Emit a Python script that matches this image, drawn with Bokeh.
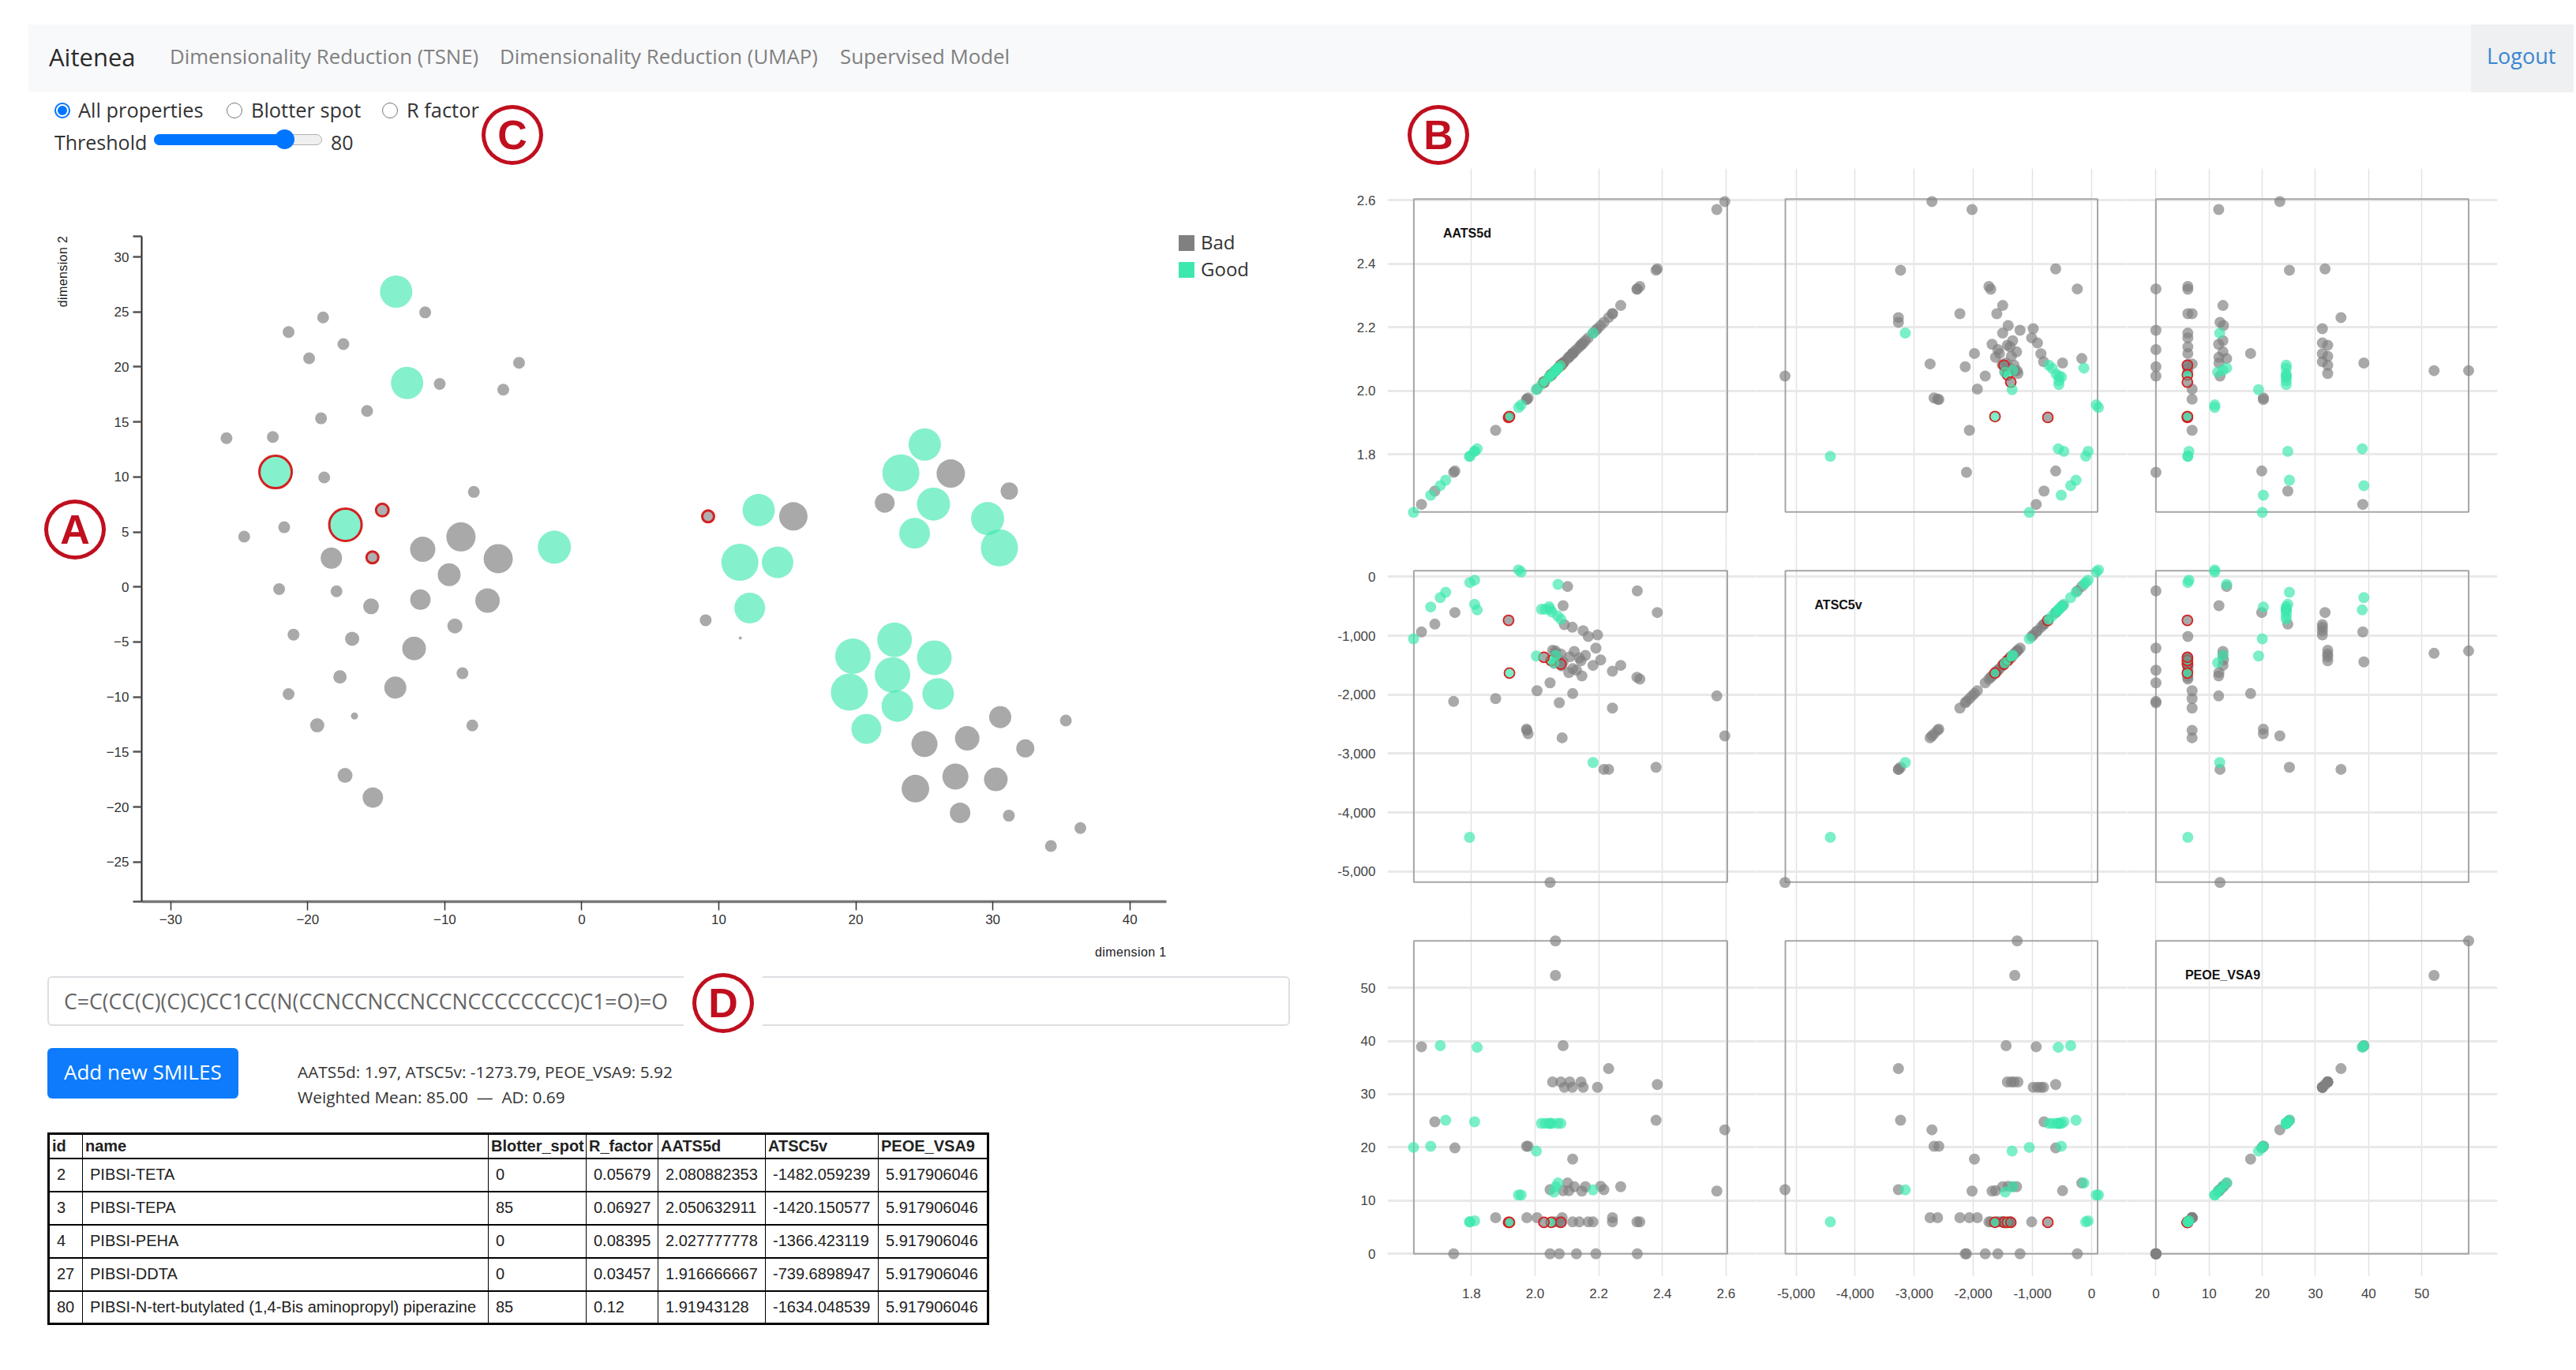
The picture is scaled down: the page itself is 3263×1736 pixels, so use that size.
from bokeh.embed import file_html
from bokeh.layouts import column
from bokeh.models import BoxAnnotation, Div, FixedTicker, Label, NumeralTickFormatter, Range1d
from bokeh.plotting import figure
from bokeh.resources import INLINE

BAD = "#808080"
GOOD = "#3de8ae"
RED = "#d42020"
BADGE = "#c00f1f"
AXIS_FONT = "Liberation Sans"
UI_FONT = "Open Sans"

# a column lines up the frames of its figures, so they all get the same borders
BORDER_LEFT, BORDER_TOP, BORDER_RIGHT, BORDER_BOTTOM = 110, 2, 20, 90

# TSNE projection
tsne_bad_x = [-18.88, -11.43, -21.4, -17.4, -19.9, -4.58, -10.37, -5.73, -15.67, -19.03, -22.55, -25.93, -18.8,
              -7.88, -21.72, -24.64, -18.28, -11.61, -8.82, -6.1, -9.68, -22.09, -17.9, -15.38, -11.78, -6.88,
              -21.04, -16.76, -9.26, -12.24, -8.71, -17.65, -13.61, -21.4, -16.59, -19.31, -7.99, -17.28, -15.25,
              15.44, 9.04, 11.57, 26.93, 22.11, 31.2, 30.54, 35.33, 25.01, 28.13, 32.37, 27.27, 30.22, 24.35,
              27.61, 31.17, 36.39, 34.24]
tsne_bad_y = [24.5, 24.96, 23.17, 22.08, 20.79, 20.38, 18.46, 17.94, 16.0, 15.33, 13.63, 13.52, 9.96, 8.64, 5.43,
              4.58, 2.63, 3.43, 4.55, 2.57, 1.12, -0.19, -0.39, -1.76, -1.15, -1.24, -4.33, -4.71, -3.54, -5.59,
              -7.84, -8.17, -9.15, -9.73, -11.73, -12.57, -12.59, -17.13, -19.14, 6.42, -3.02, -4.64, 10.31, 7.65,
              8.72, -11.83, -12.14, -14.27, -13.76, -14.67, -17.23, -17.49, -18.33, -20.53, -20.79, -21.91, -23.54]
tsne_bad_value = [30, 30, 30, 30, 30, 30, 30, 30, 30, 30, 30, 30, 30, 30, 30, 30, 54, 64, 74, 74, 58, 30, 30, 40,
                  52, 62, 30, 36, 38, 60, 30, 34, 56, 30, 18, 36, 30, 38, 52, 72, 30, 8, 72, 50, 44, 56, 30, 66,
                  62, 46, 66, 60, 70, 52, 30, 30, 30]

tsne_good_x = [-13.55, -12.75, -2.0, 12.91, 11.54, 14.29, 12.26, 25.03, 23.29, 25.67, 24.29, 29.62, 30.48, 22.83,
               19.79, 25.73, 22.68, 19.53, 26.01, 23.03, 20.77]
tsne_good_y = [26.85, 18.55, 3.62, 6.99, 2.24, 2.24, -1.92, 12.95, 10.37, 7.54, 4.88, 6.22, 3.56, -4.8, -6.29,
               -6.43, -7.99, -9.56, -9.71, -10.82, -12.9]
tsne_good_value = [82, 82, 84, 82, 94, 80, 78, 82, 94, 84, 78, 84, 94, 88, 90, 88, 90, 94, 80, 80, 76]

# the five selected compounds, same order as the table
sel_ids = [2, 3, 4, 27, 80]
sel_names = ["PIBSI-TETA", "PIBSI-TEPA", "PIBSI-PEHA", "PIBSI-DDTA",
             "PIBSI-N-tert-butylated (1,4-Bis aminopropyl) piperazine"]
sel_blotter = [0, 85, 0, 0, 85]
sel_r_factor = [0.05679, 0.06927, 0.08395, 0.03457, 0.12]
sel_aats = [2.080882353, 2.050632911, 2.027777778, 1.916666667, 1.91943128]
sel_atsc = [-1482.059239, -1420.150577, -1366.423119, -739.6898947, -1634.048539]
sel_peoe = [5.917906046, 5.917906046, 5.917906046, 5.917906046, 5.917906046]
sel_tsne_x = [-14.56, -22.35, -15.28, 9.22, -17.25]
sel_tsne_y = [6.99, 10.45, 2.69, 6.42, 5.65]
sel_tsne_value = [32, 82, 30, 30, 82]
sel_tsne_class = [0, 85, 0, 0, 85]

# descriptor values for the scatter matrix
bad_aats = [1.643, 1.685, 1.744, 1.748, 1.876, 1.973, 1.978, 1.974, 2.006, 2.047, 2.047, 2.076, 2.13, 2.191, 2.321,
            2.055, 2.081, 2.109, 2.144, 2.092, 2.117, 2.151, 2.196, 2.384, 2.088, 2.231, 2.38, 2.596, 2.118, 2.571,
            2.216, 2.106, 2.147, 2.123, 2.158, 2.206, 2.269, 2.102, 2.085, 2.243, 2.083, 2.118, 2.139, 2.167, 2.182,
            2.243, 2.32, 2.329, 2.088, 2.064, 2.064, 2.071, 2.06]
bad_atsc = [-937, -804, -2116, -607, -2067, -2585, -2665, -2605, -1933, -5187, -1799, -2138, -1585, -1210, -241,
            -1246, -1312, -1357, -1424, -812, -857, -915, -987, -607, -1446, -3268, -3232, -2701, -1982, -2022,
            -3268, -1625, -1683, -1268, -1335, -1411, -1504, -165, -2732, -2228, -1513, -1558, -1379, -1013, -1504,
            -1603, -1705, -1737, -491, -1259, -1299, -1380, -1470]
bad_peoe = [38.9, 24.8, 0, 19.9, 6.8, 20.2, 20.2, 6.8, 6.8, 12.05, 0, 0, 0, 0, 0, 32.3, 32.3, 32.3, 32.3, 31.3, 31.3,
            31.3, 31.3, 31.8, 39.1, 34.8, 25.1, 23.3, 17.8, 11.8, 12.05, 11.85, 11.8, 12.6, 12.6, 12.7, 12.6, 13.3,
            6.8, 6.8, 6.0, 6.0, 6.0, 6.0, 6.0, 6.0, 6.0, 6.0, 11.85, 58.8, 52.3, 6.0, 6.0]

good_aats = [1.618, 1.672, 1.702, 1.719, 1.795, 1.81, 1.81, 1.818, 1.948, 1.956, 2.004, 2.072, 2.02, 2.032, 2.044,
             2.047, 2.053, 2.071, 2.081, 2.065, 2.059, 2.182, 1.794]
good_atsc = [-1054, -513, -353, -263, -98, -58, -469, -563, 116, 80, -1344, -129, -553, -553, -509, -553, -598, -665,
             -723, -1335, -1460, -3152, -4420]
good_peoe = [20.0, 20.2, 39.1, 25.1, 6.0, 6.2, 24.8, 38.8, 11.06, 11.06, 19.3, 13.3, 24.5, 24.5, 24.5, 24.5, 24.5,
             24.5, 24.5, 12.6, 11.6, 12.0, 6.0]

# axes of the scatter matrix
aats_extent = [1.619, 2.604]
atsc_extent = [-5181, 102]
peoe_extent = [0, 58.8]
aats_ticks = [1.8, 2.0, 2.2, 2.4, 2.6]
atsc_ticks = [-5000, -4000, -3000, -2000, -1000, 0]
peoe_ticks = [0, 10, 20, 30, 40, 50]
descriptor_names = ["AATS5d", "ATSC5v", "PEOE_VSA9"]

tsne_x_ticks = [-30, -20, -10, 0, 10, 20, 30, 40]
tsne_y_ticks = [-25, -20, -15, -10, -5, 0, 5, 10, 15, 20, 25, 30]
tsne_x_extent = [-32.12, 42.67]
tsne_y_extent = [-28.6, 31.87]
class_labels = ["Bad", "Good"]

nav_links = ["Dimensionality Reduction (TSNE)", "Dimensionality Reduction (UMAP)", "Supervised Model"]
radio_labels = ["All properties", "Blotter spot", "R factor"]
threshold = 80
table_columns = ["id", "name", "Blotter_spot", "R_factor", "AATS5d", "ATSC5v", "PEOE_VSA9"]
smiles = "C=C(CC(C)(C)C)CC1CC(N(CCNCCNCCNCCNCCCCCCCC)C1=O)=O"
descriptor_line = "AATS5d: 1.97, ATSC5v: -1273.79, PEOE_VSA9: 5.92"
mean_line = "Weighted Mean: 85.00 &nbsp;&mdash;&nbsp; AD: 0.69"


def text_at(x, y, text, size, color="#333", font=UI_FONT, extra=""):
    return (f'<span style="position:absolute;left:{x}px;top:{y}px;transform:translateY(-50%);'
            f'white-space:nowrap;font-family:\'{font}\';font-size:{size}px;color:{color};{extra}">{text}</span>')


def box_at(x, y, w, h, style):
    return f'<div style="position:absolute;left:{x}px;top:{y}px;width:{w}px;height:{h}px;{style}"></div>'


def radio(cx, cy, checked):
    if checked:
        return box_at(cx - 10, cy - 10, 20, 20, "box-sizing:border-box;border-radius:50%;background:#fff;"
                                                 "border:2px solid #0075ff;") + \
            box_at(cx - 6, cy - 6, 12, 12, "border-radius:50%;background:#0075ff;")
    return box_at(cx - 10, cy - 10, 20, 20, "box-sizing:border-box;border-radius:50%;background:#fff;"
                                             "border:1.5px solid #767676;")


def badge(cx, cy, letter):
    ring = box_at(cx - 39, cy - 38, 78, 76, f"box-sizing:border-box;border-radius:50%;background:#fff;"
                                            f"border:5px solid {BADGE};")
    label = (f'<span style="position:absolute;left:{cx - 39}px;top:{cy - 38}px;width:78px;line-height:76px;'
             f'text-align:center;font-family:\'{AXIS_FONT}\';font-weight:bold;font-size:52px;color:{BADGE};">'
             f'{letter}</span>')
    return ring + label


def result_table():
    widths = [43, 514, 124, 91, 136, 143, 139]
    cell = f"border:1px solid #000;border-top:2px solid #000;border-bottom:2px solid #000;font-family:'{AXIS_FONT}';" \
           "white-space:nowrap;overflow:hidden;color:#222;"
    html = ('<table style="position:absolute;left:60px;top:1435px;width:1190px;table-layout:fixed;'
            'border-collapse:collapse;border:3px solid #000;">')
    html += "<colgroup>" + "".join(f'<col style="width:{w}px">' for w in widths) + "</colgroup>"
    html += '<tr style="height:30px">' + "".join(
        f'<th style="{cell}font-size:20px;text-align:left;padding:0 0 0 3px;">{c}</th>' for c in table_columns) + "</tr>"
    for row in zip(sel_ids, sel_names, sel_blotter, sel_r_factor, sel_aats, sel_atsc, sel_peoe):
        html += '<tr style="height:42px">' + "".join(
            f'<td style="{cell}font-size:20px;padding:0 0 0 9px;">{v}</td>' for v in row) + "</tr>"
    return html + "</table>"


def page_html():
    parts = ['<div style="position:relative;width:3247px;height:1720px;">']
    # navbar
    parts.append(box_at(36, 31, 3224, 86, "background:#f8f9fa;"))
    parts.append(box_at(3130, 31, 130, 86, "background:#eef0f2;"))
    parts.append(text_at(62, 72, "Aitenea", 31, "#2a2a2a"))
    for x, link in zip([215, 633, 1064], nav_links):
        parts.append(text_at(x, 71, link, 25.8, "#808080"))
    parts.append(text_at(3150, 71, "Logout", 27, "#3a85cf"))
    # controls
    for i, (cx, tx, label) in enumerate(zip([79, 297, 494], [99, 318, 515], radio_labels)):
        parts.append(radio(cx, 140, i == 0))
        parts.append(text_at(tx, 139, label, 25.4, "#333"))
    parts.append(text_at(69, 181, "Threshold", 25, "#333"))
    parts.append(box_at(195, 170, 213, 14, "box-sizing:border-box;border-radius:7px;background:#efefef;"
                                           "border:1px solid #b2b2b2;"))
    parts.append(box_at(195, 170, 166, 14, "border-radius:7px;background:#0075ff;"))
    parts.append(box_at(348, 164, 25, 25, "border-radius:50%;background:#0075ff;"))
    parts.append(text_at(419, 181, str(threshold), 25, "#333"))
    # axis names and legend of the projection
    parts.append(f'<span style="position:absolute;left:80px;top:344px;transform:translate(-50%,-50%) rotate(-90deg);'
                 f'white-space:nowrap;font-family:\'{AXIS_FONT}\';font-size:16px;letter-spacing:0.4px;color:#222;">'
                 'dimension 2</span>')
    parts.append(text_at(1387, 1207, "dimension 1", 16, "#222", AXIS_FONT, "letter-spacing:0.4px;"))
    for top, color, label in zip([298, 332], [BAD, GOOD], class_labels):
        parts.append(box_at(1493, top, 20, 20, f"background:{color};"))
        parts.append(text_at(1521, top + 9, label, 24, "#333"))
    # form
    parts.append(box_at(60, 1237, 1574, 63, "box-sizing:border-box;border:2px solid #dcdfe2;border-radius:6px;"))
    parts.append(text_at(81, 1270, smiles, 26.6, "#666"))
    parts.append(box_at(60, 1328, 242, 64, "border-radius:6px;background:#0d7bfb;"))
    parts.append(text_at(81, 1359, "Add new SMILES", 26, "#fff"))
    parts.append(text_at(377, 1359, descriptor_line, 20.8, "#333"))
    parts.append(text_at(377, 1391, mean_line, 20.8, "#333"))
    parts.append(result_table())
    parts.append("</div>")
    return "".join(parts)


def badge_html():
    parts = ['<div style="position:relative;width:0;height:0;">']
    parts.append(box_at(866, 1232, 100, 72, "background:#fff;"))
    parts.append(badge(95, 670, "A"))
    parts.append(badge(1822, 170, "B"))
    parts.append(badge(649, 170, "C"))
    parts.append(badge(916, 1270, "D"))
    parts.append("</div>")
    return "".join(parts)


def placed_figure(frame_left, frame_top, frame_w, frame_h, x_extent, y_extent, **kwargs):
    return figure(width=BORDER_LEFT + frame_w + BORDER_RIGHT, height=BORDER_TOP + frame_h + BORDER_BOTTOM,
                  frame_width=frame_w, frame_height=frame_h, min_border_left=BORDER_LEFT, min_border_top=BORDER_TOP,
                  min_border_right=BORDER_RIGHT, min_border_bottom=BORDER_BOTTOM, toolbar_location=None,
                  output_backend="svg", x_range=Range1d(*x_extent), y_range=Range1d(*y_extent),
                  background_fill_color=None, border_fill_color=None, outline_line_color=None,
                  styles={"position": "absolute", "left": f"{frame_left - BORDER_LEFT}px",
                          "top": f"{frame_top - BORDER_TOP}px"}, **kwargs)


def tsne_figure():
    p = placed_figure(179, 299, 1298, 843, tsne_x_extent, tsne_y_extent)
    p.grid.visible = False

    p.scatter(tsne_bad_x, tsne_bad_y, size=[v * 0.5 for v in tsne_bad_value], color=BAD, line_color=None,
              fill_alpha=0.68)
    p.scatter(tsne_good_x, tsne_good_y, size=[v * 0.5 for v in tsne_good_value], color=GOOD, line_color=None,
              fill_alpha=0.63)
    sel_colors = [GOOD if c else BAD for c in sel_tsne_class]
    p.scatter(sel_tsne_x, sel_tsne_y, size=[v * 0.5 for v in sel_tsne_value], fill_color=sel_colors, line_color=RED,
              line_width=3, fill_alpha=0.63)

    p.xaxis.ticker = FixedTicker(ticks=tsne_x_ticks)
    # the axis ends carry a tick without a label
    p.yaxis.ticker = FixedTicker(ticks=tsne_y_ticks + tsne_y_extent)
    p.yaxis.major_label_overrides = {v: "" for v in tsne_y_extent}
    for ax in (p.xaxis[0], p.yaxis[0]):
        ax.major_tick_in = 0
        ax.major_tick_out = 11
        ax.minor_tick_line_color = None
        ax.major_label_text_font = AXIS_FONT
        ax.major_label_text_font_size = "17px"
        ax.major_label_text_color = "#333"
        ax.major_label_standoff = 5
    p.xaxis.axis_line_color = "#777"
    p.xaxis.axis_line_width = 3.5
    p.xaxis.major_tick_line_color = "#333"
    p.xaxis.major_tick_line_width = 1.5
    p.yaxis.axis_line_color = "#222"
    p.yaxis.axis_line_width = 2
    p.yaxis.major_tick_line_color = "#555"
    p.yaxis.major_tick_line_width = 2.5
    return p


def data_range(extent, box_start, box_end, frame_start, frame_end):
    # range of a cell's frame, from where the boxed extent sits inside it
    per_px = (extent[1] - extent[0]) / (box_end - box_start)
    return extent[0] - (box_start - frame_start) * per_px, extent[1] + (frame_end - box_end) * per_px


def splom_cell(i, j, rows, cols, columns):
    xname, yname = columns[j], columns[i]
    xbox, ybox = cols["box"][j], rows["box"][i]
    x0, x1 = cols["frame"][j], cols["frame"][j + 1]
    y0, y1 = rows["frame"][i], rows["frame"][i + 1]
    xs = data_range(xname["extent"], xbox[0], xbox[1], x0, x1)
    # pixels grow downwards, data upwards
    ys = data_range(yname["extent"], -ybox[1], -ybox[0], -y1, -y0)
    p = placed_figure(x0, y0, x1 - x0, y1 - y0, xs, ys, x_axis_location="below" if i == 2 else None,
                      y_axis_location="left" if j == 0 else None)
    p.xgrid.ticker = FixedTicker(ticks=xname["ticks"])
    p.ygrid.ticker = FixedTicker(ticks=yname["ticks"])
    p.xgrid.grid_line_color = "#e3e3e3"
    p.xgrid.grid_line_width = 1.5
    p.ygrid.grid_line_color = "#e9e9e9"
    p.ygrid.grid_line_width = 3

    axes = []
    if i == 2:
        p.xaxis.ticker = FixedTicker(ticks=xname["ticks"])
        p.xaxis.formatter = NumeralTickFormatter(format=xname["fmt"])
        axes.append(p.xaxis[0])
    if j == 0:
        p.yaxis.ticker = FixedTicker(ticks=yname["ticks"])
        p.yaxis.formatter = NumeralTickFormatter(format=yname["fmt"])
        axes.append(p.yaxis[0])
    for ax in axes:
        ax.axis_line_color = None
        ax.major_tick_line_color = None
        ax.minor_tick_line_color = None
        ax.major_label_text_font = AXIS_FONT
        ax.major_label_text_font_size = "17px"
        ax.major_label_text_color = "#444"
        ax.major_label_standoff = 9

    p.add_layout(BoxAnnotation(left=xname["extent"][0], right=xname["extent"][1], bottom=yname["extent"][0],
                               top=yname["extent"][1], fill_alpha=0, line_color="#a6a6a6", line_alpha=1, line_width=2,
                               level="underlay"))
    p.scatter(xname["bad"], yname["bad"], size=14, color=BAD, line_color=None, fill_alpha=0.68)
    # the red rings show over the bad points but go under the good ones
    sel_colors = [GOOD if c else BAD for c in sel_blotter]
    p.scatter(xname["sel"], yname["sel"], size=13, fill_color=sel_colors, fill_alpha=0.68, line_color=RED,
              line_width=1.8)
    p.scatter(xname["good"], yname["good"], size=14, color=GOOD, line_color=None, fill_alpha=0.68)

    if i == j:
        p.add_layout(Label(x=xbox[0] - x0 + 37, y=y1 - ybox[0] - 43, x_units="screen", y_units="screen",
                           text=xname["name"], text_align="left", text_baseline="middle", text_font=AXIS_FONT,
                           text_font_style="bold", text_font_size="16px", text_color="#111"))
    return p


def splom_figures():
    columns = [
        dict(name=descriptor_names[0], extent=aats_extent, ticks=aats_ticks, fmt="0.0", bad=bad_aats, good=good_aats,
             sel=sel_aats),
        dict(name=descriptor_names[1], extent=atsc_extent, ticks=atsc_ticks, fmt="0,0", bad=bad_atsc, good=good_atsc,
             sel=sel_atsc),
        dict(name=descriptor_names[2], extent=peoe_extent, ticks=peoe_ticks, fmt="0", bad=bad_peoe, good=good_peoe,
             sel=sel_peoe),
    ]
    cols = dict(frame=[1757, 2224, 2694, 3163], box=[(1790.4, 2187.5), (2261, 2656.5), (2730.4, 3126.5)])
    rows = dict(frame=[213, 685, 1155, 1617], box=[(251.7, 648.3), (722.7, 1117.3), (1191.7, 1588.3)])
    return [splom_cell(i, j, rows, cols, columns) for i in range(3) for j in range(3)]


page = Div(text=page_html(), width=3247, height=1720, margin=0)
badges = Div(text=badge_html(), width=0, height=0, margin=0, styles={"position": "absolute", "left": "0px", "top": "-11px"})
p = column([page, tsne_figure()] + splom_figures() + [badges], width=3247, height=1720)

open("out.html", "w").write(file_html(p, INLINE))
